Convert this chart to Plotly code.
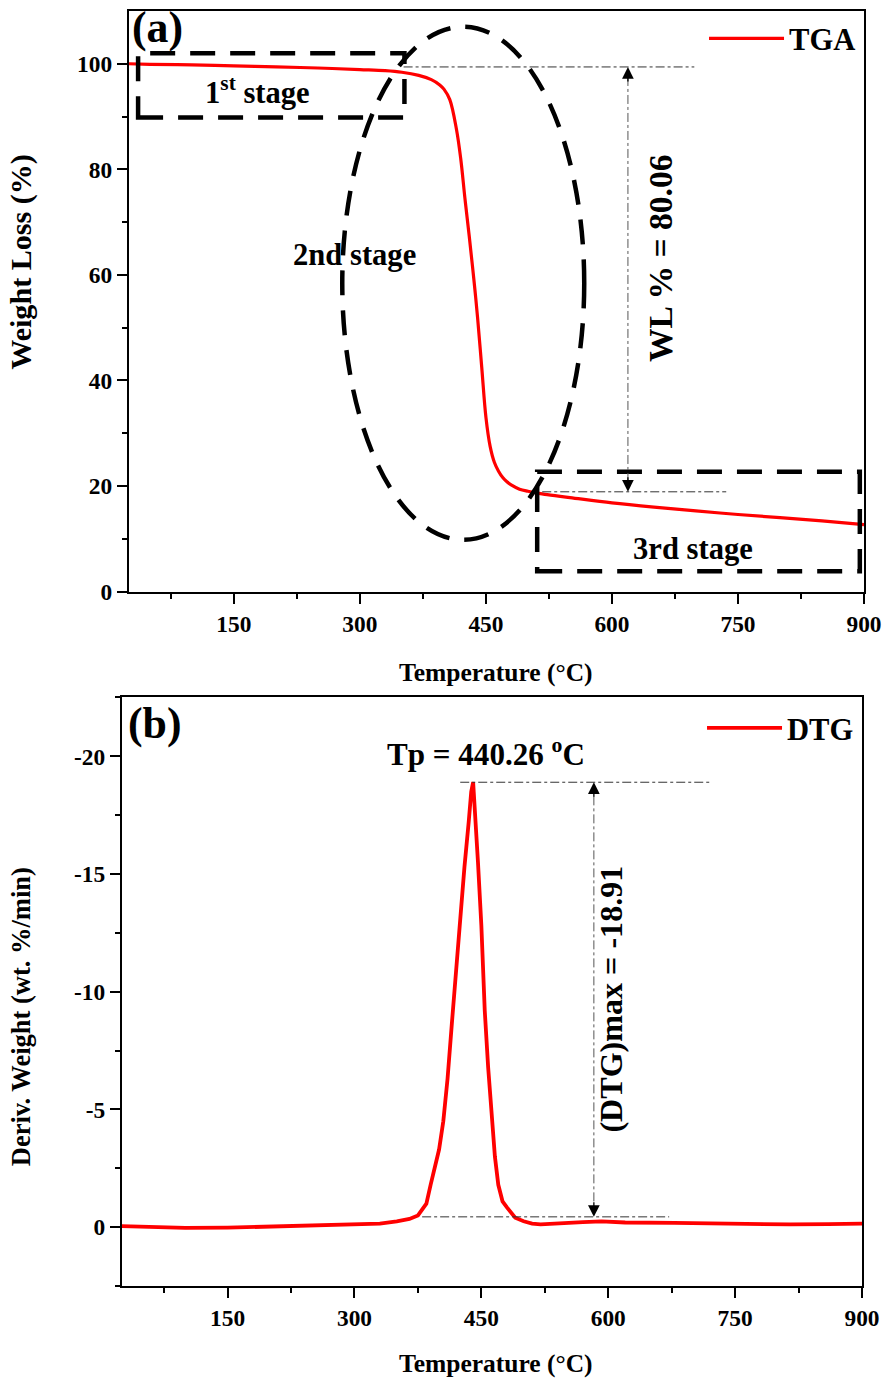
import plotly.graph_objects as go

# ---------------- data ----------------
tga_temp = [25, 50, 100, 150, 200, 250, 300, 330, 350, 370, 385, 395, 400, 407, 415, 420, 425, 430,
            434, 437, 440, 445, 450, 455, 460, 465, 470, 475, 480, 490, 500, 510, 520, 550, 600,
            650, 700, 750, 800, 850, 900]
tga_weight = [100.0, 99.9, 99.8, 99.6, 99.4, 99.2, 98.9, 98.7, 98.4, 97.8, 97.0, 96.0, 95.2, 93.2,
              87.5, 82.0, 74.5, 67.5, 61.6, 57.0, 52.0, 42.5, 33.0, 27.5, 24.5, 22.8, 21.6, 20.8,
              20.2, 19.4, 19.0, 18.7, 18.4, 17.8, 16.8, 16.0, 15.3, 14.6, 14.0, 13.4, 12.7]

dtg_temp = [25, 50, 75, 100, 150, 200, 250, 300, 330, 350, 365, 375, 385, 390, 395, 400, 405, 410,
            415, 420, 425, 430, 435, 438, 440.26, 443, 446, 450, 454, 458, 462, 466, 470, 475, 480,
            485, 490, 500, 510, 520, 545, 570, 592, 620, 678, 750, 815, 860, 900]
dtg_value = [-0.05, -0.03, 0.02, 0.03, 0.02, -0.02, -0.06, -0.10, -0.15, -0.25, -0.35, -0.5, -1.0,
             -1.8, -2.6, -3.3, -4.5, -6.3, -8.6, -10.9, -13.1, -15.3, -17.2, -18.5, -18.91, -17.5,
             -15.5, -12.8, -9.2, -6.8, -5.0, -3.0, -1.8, -1.1, -0.85, -0.6, -0.4, -0.25, -0.15,
             -0.12, -0.18, -0.22, -0.25, -0.2, -0.18, -0.13, -0.12, -0.13, -0.15]

x_tickvals = [150, 300, 450, 600, 750, 900]
y1_tickvals = [0, 20, 40, 60, 80, 100]
y2_tickvals = [0, -5, -10, -15, -20]
y2_ticktext = ["0", "-5", "-10", "-15", "-20"]

# ---------------- style helpers ----------------
FONT = "Liberation Serif, Times New Roman, serif"
REF_W, REF_H = 885, 1380
W, H = 902, 1392
FS = W / REF_W  # font scale


def px(xp):
    return xp / REF_W


def py(yp):
    return 1 - yp / REF_H


def f(s):
    return round(s * FS, 1)


fig = go.Figure()

fig.add_trace(go.Scatter(x=tga_temp, y=tga_weight, mode="lines", name="TGA",
                         line=dict(color="#ff0000", width=3.2), xaxis="x", yaxis="y",
                         legend="legend", line_shape="spline"))
fig.add_trace(go.Scatter(x=dtg_temp, y=dtg_value, mode="lines", name="DTG",
                         line=dict(color="#ff0000", width=3.8), xaxis="x2", yaxis="y2",
                         legend="legend2"))

tickfont = dict(family=FONT, size=f(23), color="black", weight="bold")
common_x = dict(range=[25, 900], tickvals=x_tickvals, ticks="outside", ticklen=10, tickwidth=2,
                tickcolor="black", showline=True, linecolor="black", linewidth=2, mirror=True,
                showgrid=False, zeroline=False, tickfont=tickfont,
                minor=dict(tickvals=[75, 225, 375, 525, 675, 825], ticks="outside", ticklen=5,
                           tickwidth=2, tickcolor="black"))

fig.update_layout(
    width=W, height=H, margin=dict(l=0, r=0, t=0, b=0),
    paper_bgcolor="white", plot_bgcolor="white",
    xaxis=dict(domain=[px(129), px(865)], anchor="y", **common_x),
    yaxis=dict(domain=[py(592), py(11)], anchor="x", range=[0, 110], tickvals=y1_tickvals,
               ticks="outside", ticklen=10, tickwidth=2, tickcolor="black", showline=True,
               linecolor="black", linewidth=2, mirror=True, showgrid=False, zeroline=False,
               tickfont=tickfont,
               minor=dict(tickvals=[10, 30, 50, 70, 90], ticks="outside", ticklen=5, tickwidth=2,
                          tickcolor="black")),
    xaxis2=dict(domain=[px(122), px(863)], anchor="y2", **common_x),
    yaxis2=dict(domain=[py(1287), py(698)], anchor="x2", range=[2.5, -22.5],
                tickvals=y2_tickvals, ticktext=y2_ticktext,
                ticks="outside", ticklen=10, tickwidth=2, tickcolor="black", showline=True,
                linecolor="black", linewidth=2, mirror=True, showgrid=False, zeroline=False,
                tickfont=tickfont,
                minor=dict(tickvals=[2.5, -2.5, -7.5, -12.5, -17.5, -22.5], ticks="outside",
                           ticklen=5, tickwidth=2, tickcolor="black")),
    legend=dict(x=px(862), xanchor="right", y=py(12), yanchor="top", bgcolor="rgba(0,0,0,0)",
                font=dict(family=FONT, size=f(30), color="black", weight="bold"), itemwidth=75,
                borderwidth=0),
    legend2=dict(x=px(860), xanchor="right", y=py(702), yanchor="top", bgcolor="rgba(0,0,0,0)",
                 font=dict(family=FONT, size=f(30), color="black", weight="bold"), itemwidth=75,
                 borderwidth=0),
    showlegend=True,
)

shapes = []
dash_big = "25px,15px"
# stage boxes and ellipse (panel a)
shapes.append(dict(type="rect", xref="x", yref="y", x0=36, x1=353, y0=89.8, y1=102,
                   line=dict(color="black", width=4.5, dash=dash_big)))
shapes.append(dict(type="rect", xref="x", yref="y", x0=511, x1=895, y0=3.85, y1=22.7,
                   line=dict(color="black", width=4.5, dash=dash_big)))
shapes.append(dict(type="circle", xref="x", yref="y", x0=279, x1=567, y0=9.8, y1=107,
                   line=dict(color="black", width=4.5, dash=dash_big)))
# reference lines panel a
thin = dict(color="#333333", width=1, dash="dashdot")
shapes.append(dict(type="line", xref="x", yref="y", x0=352, x1=698, y0=99.4, y1=99.4, line=thin))
shapes.append(dict(type="line", xref="x", yref="y", x0=517, x1=736, y0=18.9, y1=18.9, line=thin))
shapes.append(dict(type="line", xref="x", yref="y", x0=619, x1=619, y0=97.5, y1=20.8,
                   line=dict(color="#555555", width=1, dash="dashdot")))
# reference lines panel b
shapes.append(dict(type="line", xref="x2", yref="y2", x0=425, x1=720, y0=-18.9, y1=-18.9, line=thin))
shapes.append(dict(type="line", xref="x2", yref="y2", x0=380, x1=672, y0=-0.44, y1=-0.44, line=thin))
shapes.append(dict(type="line", xref="x2", yref="y2", x0=583, x1=583, y0=-18.3, y1=-1.0,
                   line=dict(color="#555555", width=1, dash="dashdot")))
fig.update_layout(shapes=shapes)

ann = []
bold = dict(family=FONT, color="black", weight="bold")


def txt(text, x, y, size, angle=0, xanchor="center", yanchor="middle", xref="paper", yref="paper"):
    ann.append(dict(text=text, x=x, y=y, xref=xref, yref=yref, showarrow=False,
                    font=dict(size=f(size), **bold), textangle=angle,
                    xanchor=xanchor, yanchor=yanchor))


# axis titles
txt("Weight Loss (%)", px(21), py(262), 29.5, angle=-90)
txt("Temperature (°C)", px(497), py(673), 25)
txt("Deriv. Weight (wt. %/min)", px(21), py(1017), 26, angle=-90)
txt("Temperature (°C)", px(497), py(1364), 25)
# panel labels
txt("(a)", px(130), py(28), 43, xanchor="left")
txt("(b)", px(126), py(724), 43, xanchor="left")
# panel a labels
txt("1<sup>st</sup> stage", 178, 95.0, 30, xref="x", yref="y")
txt("2nd stage", 294, 63.8, 30, xref="x", yref="y")
txt("3rd stage", 696, 8.0, 30, xref="x", yref="y")
txt("WL % = 80.06", px(662), py(258), 33, angle=-90)
# panel b labels
txt("Tp = 440.26 <sup>o</sup>C", px(487), py(753), 30.5)
txt("(DTG)max = -18.91", px(612), py(1000), 31.5, angle=-90)

# arrowheads
for (xv, yv, ay, xr, yr) in [(619, 99.4, 16, "x", "y"), (619, 18.9, -16, "x", "y"),
                             (583, -18.9, 16, "x2", "y2"), (583, -0.44, -16, "x2", "y2")]:
    ann.append(dict(x=xv, y=yv, xref=xr, yref=yr, text="", showarrow=True, ax=0, ay=ay,
                    arrowhead=2, arrowsize=1.8, arrowwidth=1.3, arrowcolor="black"))

fig.update_layout(annotations=ann)

fig.write_html(
    "out.html",
    post_script="document.body.style.margin='0';document.documentElement.style.overflow='hidden';",
)
